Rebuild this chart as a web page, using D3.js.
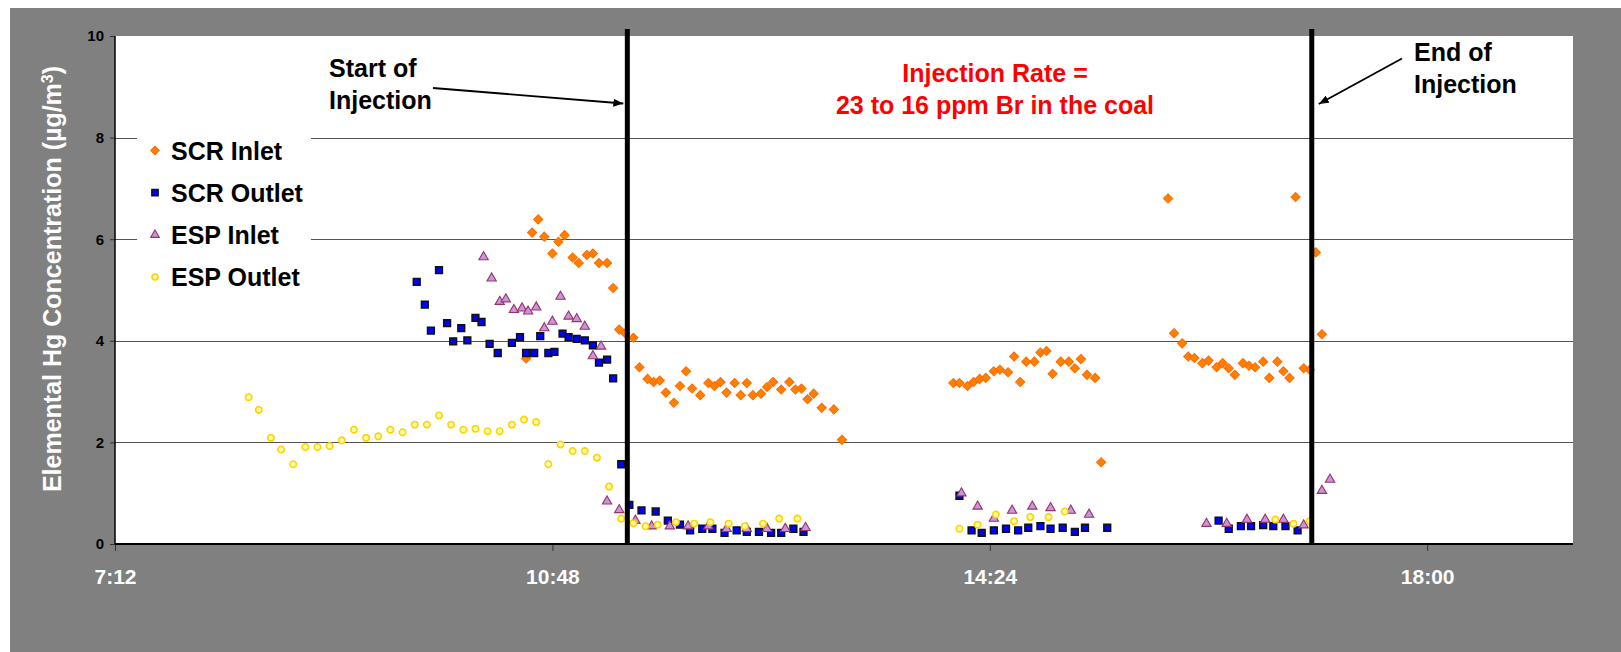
<!DOCTYPE html>
<html>
<head>
<meta charset="utf-8">
<script src="https://cdn.jsdelivr.net/npm/d3@7"></script>
<style>
  body { margin: 0; background: #fff; }
  svg { display: block; font-family: "Liberation Sans", Arial, sans-serif; }
</style>
</head>
<body>
<div id="chart"></div>
<script>
'use strict';

// [time, elemental Hg ug/m3]
var scrInlet = [
  ['10:35',3.65],['10:38',6.13],['10:41',6.39],['10:44',6.05],['10:48',5.72],['10:51',5.95],['10:54',6.08],
  ['10:58',5.64],['11:01',5.53],['11:05',5.69],['11:08',5.72],['11:11',5.53],['11:15',5.53],['11:18',5.04],
  ['11:21',4.22],['11:24',4.15],['11:28',4.06],['11:31',3.48],['11:35',3.25],['11:38',3.19],['11:41',3.22],
  ['11:44',2.98],['11:48',2.78],['11:51',3.11],['11:54',3.40],['11:57',3.06],['12:01',2.93],['12:05',3.17],
  ['12:08',3.11],['12:11',3.19],['12:14',2.98],['12:18',3.17],['12:21',2.93],['12:24',3.17],['12:27',2.93],
  ['12:31',2.96],['12:34',3.09],['12:37',3.19],['12:41',3.04],['12:45',3.19],['12:48',3.04],['12:51',3.06],
  ['12:54',2.85],['12:57',2.96],['13:01',2.68],['13:07',2.65],['13:11',2.05],
  ['14:06',3.17],['14:09',3.17],['14:13',3.11],['14:16',3.19],['14:19',3.25],['14:22',3.27],['14:26',3.40],
  ['14:29',3.43],['14:33',3.38],['14:36',3.69],['14:39',3.19],['14:42',3.59],['14:46',3.59],['14:49',3.77],
  ['14:52',3.80],['14:55',3.35],['14:59',3.59],['15:03',3.59],['15:06',3.46],['15:09',3.64],['15:12',3.33],
  ['15:16',3.27],['15:19',1.61],
  ['15:52',6.80],['15:55',4.15],['15:59',3.95],['16:02',3.69],['16:05',3.66],['16:09',3.56],['16:12',3.61],
  ['16:16',3.48],['16:19',3.56],['16:22',3.46],['16:25',3.33],['16:29',3.56],['16:32',3.51],['16:35',3.48],
  ['16:39',3.59],['16:42',3.27],['16:46',3.59],['16:49',3.40],['16:52',3.27],['16:55',6.83],['16:59',3.46],
  ['17:02',3.43],['17:05',5.74],['17:08',4.13]
];

var scrOutlet = [
  ['09:41',5.16],['09:45',4.71],['09:48',4.20],['09:52',5.39],['09:56',4.35],['09:59',3.99],['10:03',4.25],
  ['10:06',4.01],['10:10',4.45],['10:13',4.37],['10:17',3.94],['10:21',3.76],['10:28',3.96],['10:32',4.07],
  ['10:35',3.76],['10:39',3.76],['10:42',4.09],['10:46',3.76],['10:49',3.78],['10:53',4.14],['10:56',4.07],
  ['11:00',4.04],['11:04',4.01],['11:08',3.91],['11:11',3.57],['11:15',3.63],['11:18',3.26],['11:22',1.57],
  ['11:26',0.77],['11:32',0.66],['11:39',0.64],['11:45',0.46],['11:51',0.38],['11:56',0.27],['12:02',0.30],
  ['12:07',0.30],['12:13',0.22],['12:19',0.27],['12:24',0.24],['12:30',0.24],['12:36',0.22],['12:41',0.22],
  ['12:47',0.30],['12:52',0.24],
  ['14:09',0.95],['14:15',0.27],['14:20',0.22],['14:26',0.27],['14:32',0.30],['14:38',0.27],['14:43',0.32],
  ['14:49',0.35],['14:54',0.30],['15:00',0.32],['15:06',0.24],['15:11',0.32],['15:22',0.32],
  ['16:17',0.46],['16:22',0.30],['16:28',0.35],['16:33',0.35],['16:39',0.37],['16:44',0.35],['16:50',0.35],
  ['16:56',0.27]
];

var espInlet = [
  ['10:14',5.65],['10:18',5.23],['10:22',4.77],['10:25',4.82],['10:29',4.61],['10:33',4.64],['10:36',4.58],
  ['10:40',4.66],['10:44',4.25],['10:48',4.38],['10:52',4.87],['10:56',4.48],['11:00',4.43],['11:04',4.28],
  ['11:08',3.70],['11:12',3.89],['11:15',0.84],['11:21',0.67],['11:29',0.46],['11:37',0.35],['11:46',0.35],
  ['11:55',0.35],['12:05',0.35],['12:14',0.30],['12:24',0.30],['12:34',0.30],['12:43',0.30],['12:53',0.32],
  ['14:10',1.00],['14:18',0.74],['14:26',0.50],['14:35',0.66],['14:45',0.74],['14:54',0.71],['15:04',0.66],
  ['15:13',0.58],
  ['16:11',0.40],['16:21',0.40],['16:31',0.48],['16:40',0.48],['16:49',0.48],['16:59',0.37],['17:08',1.05],
  ['17:12',1.27]
];

var espOutlet = [
  ['08:18',2.89],['08:23',2.64],['08:29',2.09],['08:34',1.86],['08:40',1.57],['08:46',1.91],['08:52',1.91],
  ['08:58',1.93],['09:04',2.04],['09:10',2.25],['09:16',2.09],['09:22',2.12],['09:28',2.25],['09:34',2.20],
  ['09:40',2.35],['09:46',2.35],['09:52',2.53],['09:58',2.35],['10:04',2.25],['10:10',2.27],['10:16',2.22],
  ['10:22',2.22],['10:28',2.35],['10:34',2.45],['10:40',2.40],['10:46',1.57],['10:52',1.96],['10:58',1.83],
  ['11:04',1.83],['11:10',1.70],['11:16',1.13],['11:22',0.50],['11:28',0.41],['11:34',0.35],['11:40',0.38],
  ['11:49',0.43],['11:58',0.40],['12:06',0.43],['12:15',0.40],['12:23',0.35],['12:32',0.40],['12:40',0.50],
  ['12:49',0.50],
  ['14:09',0.30],['14:18',0.38],['14:27',0.58],['14:36',0.45],['14:44',0.53],['14:53',0.53],['15:01',0.64],
  ['16:45',0.48],['16:54',0.40],['17:02',0.45]
];

var legendLabels = ['SCR Inlet', 'SCR Outlet', 'ESP Inlet', 'ESP Outlet'];
var xTickLabels = ['07:12', '10:48', '14:24', '18:00'];
var xDomain = ['07:12', '19:12'];
var yTicks = [0, 2, 4, 6, 8, 10];
var injectionTimes = ['11:25', '17:03'];

var W = 1621, H = 652;
var plot = { left: 115, top: 36, right: 1573, bottom: 544 };
var font = '"Liberation Sans", Arial, sans-serif';

var parseTime = d3.timeParse('%H:%M');

var x = d3.scaleTime()
  .domain(xDomain.map(parseTime))
  .range([plot.left, plot.right]);
var y = d3.scaleLinear()
  .domain([0, 10])
  .range([plot.bottom, plot.top]);

var svg = d3.select('#chart').append('svg')
  .attr('width', W)
  .attr('height', H);

var defs = svg.append('defs');
defs.append('marker')
  .attr('id', 'arrow')
  .attr('markerUnits', 'userSpaceOnUse')
  .attr('viewBox', '0 0 10 8')
  .attr('refX', 10).attr('refY', 4)
  .attr('markerWidth', 10).attr('markerHeight', 8)
  .attr('orient', 'auto')
  .append('path')
    .attr('d', 'M0,0 L10,4 L0,8 Z')
    .attr('fill', '#000');

// grey chart area + white plot area
svg.append('rect')
  .attr('x', 10).attr('y', 8)
  .attr('width', W - 10).attr('height', H - 8)
  .attr('fill', '#808080');
svg.append('rect')
  .attr('x', plot.left).attr('y', plot.top)
  .attr('width', plot.right - plot.left)
  .attr('height', plot.bottom - plot.top)
  .attr('fill', '#fff');

// gridlines
svg.append('g').selectAll('line')
  .data(yTicks.filter(function(d) { return d > 0 && d < 10; }))
  .enter().append('line')
    .attr('x1', plot.left).attr('x2', plot.right)
    .attr('y1', function(d) { return Math.round(y(d)) + 0.5; })
    .attr('y2', function(d) { return Math.round(y(d)) + 0.5; })
    .attr('stroke', '#555')
    .attr('stroke-width', 1);

// y axis
var yAxis = svg.append('g')
  .attr('transform', 'translate(' + plot.left + ',0)')
  .call(d3.axisLeft(y).tickValues(yTicks).tickSize(5).tickPadding(6));
yAxis.select('.domain').remove();
yAxis.selectAll('.tick line').attr('stroke', '#333');
yAxis.selectAll('.tick text')
  .attr('fill', '#000')
  .style('font', 'bold 15px ' + font);

// x axis
var xAxis = svg.append('g')
  .attr('transform', 'translate(0,' + plot.bottom + ')')
  .call(d3.axisBottom(x)
    .tickValues(xTickLabels.map(parseTime))
    .tickSize(7)
    .tickFormat(d3.timeFormat('%-H:%M')));
xAxis.select('.domain').remove();
xAxis.selectAll('.tick line').attr('stroke', '#333');
xAxis.selectAll('.tick text')
  .attr('y', 40).attr('dy', 0)
  .attr('fill', '#fff')
  .style('font', 'bold 21px ' + font);

svg.append('line')
  .attr('x1', plot.left).attr('x2', plot.left)
  .attr('y1', plot.top).attr('y2', plot.bottom)
  .attr('stroke', '#000').attr('stroke-width', 1.5);
svg.append('line')
  .attr('x1', plot.left).attr('x2', plot.right)
  .attr('y1', plot.bottom).attr('y2', plot.bottom)
  .attr('stroke', '#000').attr('stroke-width', 2);

// y title
var yTitle = svg.append('text')
  .attr('transform', 'translate(61,279) rotate(-90)')
  .attr('text-anchor', 'middle')
  .attr('fill', '#fff')
  .style('font', 'bold 25px ' + font);
yTitle.append('tspan').text('Elemental Hg Concentration (µg/m');
yTitle.append('tspan').attr('baseline-shift', 'super').style('font-size', '16px').text('3');
yTitle.append('tspan').text(')');

// series
var series = [
  { data: scrInlet,  type: d3.symbolSquare,   size: 42, rot: 45, fill: '#ff8000', stroke: '#ff6a00', sw: 1 },
  { data: scrOutlet, type: d3.symbolSquare,   size: 46, rot: 0,  fill: '#0000ff', stroke: '#111',    sw: 1.5 },
  { data: espInlet,  type: d3.symbolTriangle, size: 38, rot: 0,  fill: '#c894e0', stroke: '#993366', sw: 1.1 },
  { data: espOutlet, type: d3.symbolCircle,   size: 32, rot: 0,  fill: '#ffffa8', stroke: '#ffd200', sw: 1.6 }
];

series.forEach(function(s) {
  svg.append('g').selectAll('path')
    .data(s.data)
    .enter().append('path')
      .attr('d', d3.symbol().type(s.type).size(s.size))
      .attr('transform', function(d) {
        return 'translate(' + x(parseTime(d[0])) + ',' + y(d[1]) + ') rotate(' + s.rot + ')';
      })
      .attr('fill', s.fill)
      .attr('stroke', s.stroke)
      .attr('stroke-width', s.sw);
});

// injection start / end lines
svg.append('g').selectAll('line')
  .data(injectionTimes)
  .enter().append('line')
    .attr('x1', function(d) { return x(parseTime(d)); })
    .attr('x2', function(d) { return x(parseTime(d)); })
    .attr('y1', 29).attr('y2', 543)
    .attr('stroke', '#000')
    .attr('stroke-width', 5);

// legend
var legend = svg.append('g');
legend.append('rect')
  .attr('x', 137).attr('y', 124)
  .attr('width', 174).attr('height', 176)
  .attr('fill', '#fff');
var legendRows = legend.selectAll('g.row')
  .data(series)
  .enter().append('g')
    .attr('class', 'row')
    .attr('transform', function(d, i) { return 'translate(155,' + (150.5 + i * 42.2) + ')'; });
legendRows.append('path')
  .attr('d', function(d) { return d3.symbol().type(d.type).size(d.size * 0.85)(); })
  .attr('transform', function(d) { return 'rotate(' + d.rot + ')'; })
  .attr('fill', function(d) { return d.fill; })
  .attr('stroke', function(d) { return d.stroke; })
  .attr('stroke-width', function(d) { return d.sw; });
legendRows.append('text')
  .attr('x', 16).attr('y', 9)
  .attr('fill', '#000')
  .style('font', 'bold 25px ' + font)
  .text(function(d, i) { return legendLabels[i]; });

// annotations
function label(lines, px, py, anchor, color) {
  var t = svg.append('text')
    .attr('text-anchor', anchor)
    .attr('fill', color)
    .style('font', 'bold 25px ' + font);
  lines.forEach(function(l, i) {
    t.append('tspan').attr('x', px).attr('y', py + i * 31.5).text(l);
  });
}
label(['Start of', 'Injection'], 329, 77, 'start', '#000');
label(['Injection Rate =', '23 to 16 ppm Br in the coal'], 995, 82, 'middle', '#ff0000');
label(['End of', 'Injection'], 1414, 61, 'start', '#000');

var xs = x(parseTime(injectionTimes[0])), xe = x(parseTime(injectionTimes[1]));
svg.append('line')
  .attr('x1', 433).attr('y1', 88)
  .attr('x2', xs - 4).attr('y2', 103.5)
  .attr('stroke', '#000').attr('stroke-width', 1.8)
  .attr('marker-end', 'url(#arrow)');
svg.append('line')
  .attr('x1', 1402).attr('y1', 58.5)
  .attr('x2', xe + 7).attr('y2', 104)
  .attr('stroke', '#000').attr('stroke-width', 1.8)
  .attr('marker-end', 'url(#arrow)');
</script>
</body>
</html>
